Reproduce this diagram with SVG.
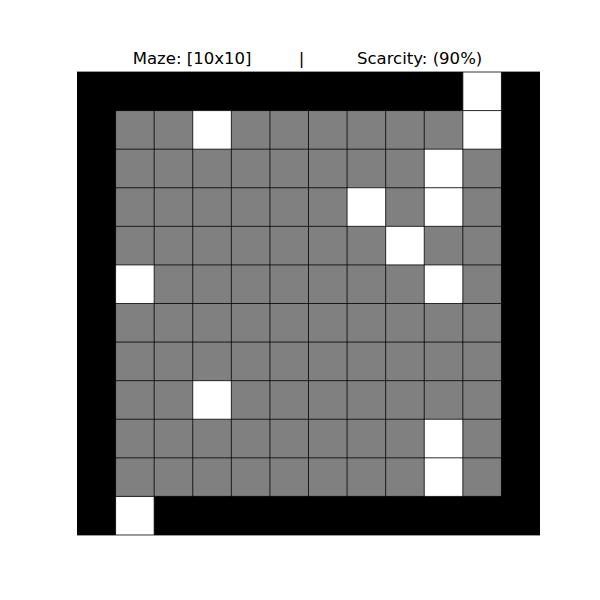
<svg xmlns="http://www.w3.org/2000/svg" width="600" height="600" viewBox="0 0 600 600">
<style>
.title{font-family:"DejaVu Sans",sans-serif;font-size:16.55px;fill:#000;white-space:pre}
.w{fill:#fff}
.g{fill:#808080}
.grid line{stroke:#000;stroke-width:0.8;vector-effect:non-scaling-stroke}
</style>
<rect width="600" height="600" fill="#fff"/>
<text class="title" x="307.5" y="64" text-anchor="middle" xml:space="preserve">Maze: [10x10]         |          Scarcity: (90%)</text>
<g id="maze" transform="translate(77,72) scale(38.5833)">
<rect x="0" y="0" width="12" height="12" fill="#000"/>
<rect class="g" x="1" y="1" width="10" height="10"/>
<g id="open-cells">
<rect class="w" x="10" y="0" width="1" height="1"/>
<rect class="w" x="3" y="1" width="1" height="1"/>
<rect class="w" x="10" y="1" width="1" height="1"/>
<rect class="w" x="9" y="2" width="1" height="1"/>
<rect class="w" x="7" y="3" width="1" height="1"/>
<rect class="w" x="9" y="3" width="1" height="1"/>
<rect class="w" x="8" y="4" width="1" height="1"/>
<rect class="w" x="1" y="5" width="1" height="1"/>
<rect class="w" x="9" y="5" width="1" height="1"/>
<rect class="w" x="3" y="8" width="1" height="1"/>
<rect class="w" x="9" y="9" width="1" height="1"/>
<rect class="w" x="9" y="10" width="1" height="1"/>
<rect class="w" x="1" y="11" width="1" height="1"/>
</g>
<g class="grid">
<line x1="0" y1="0" x2="12" y2="0"/><line x1="0" y1="12" x2="12" y2="12"/>
<line x1="1" y1="0" x2="1" y2="12"/><line x1="2" y1="0" x2="2" y2="12"/><line x1="3" y1="0" x2="3" y2="12"/><line x1="4" y1="0" x2="4" y2="12"/><line x1="5" y1="0" x2="5" y2="12"/><line x1="6" y1="0" x2="6" y2="12"/><line x1="7" y1="0" x2="7" y2="12"/><line x1="8" y1="0" x2="8" y2="12"/><line x1="9" y1="0" x2="9" y2="12"/><line x1="10" y1="0" x2="10" y2="12"/><line x1="11" y1="0" x2="11" y2="12"/>
<line x1="0" y1="1" x2="12" y2="1"/><line x1="0" y1="2" x2="12" y2="2"/><line x1="0" y1="3" x2="12" y2="3"/><line x1="0" y1="4" x2="12" y2="4"/><line x1="0" y1="5" x2="12" y2="5"/><line x1="0" y1="6" x2="12" y2="6"/><line x1="0" y1="7" x2="12" y2="7"/><line x1="0" y1="8" x2="12" y2="8"/><line x1="0" y1="9" x2="12" y2="9"/><line x1="0" y1="10" x2="12" y2="10"/><line x1="0" y1="11" x2="12" y2="11"/>
</g>
</g>
</svg>
